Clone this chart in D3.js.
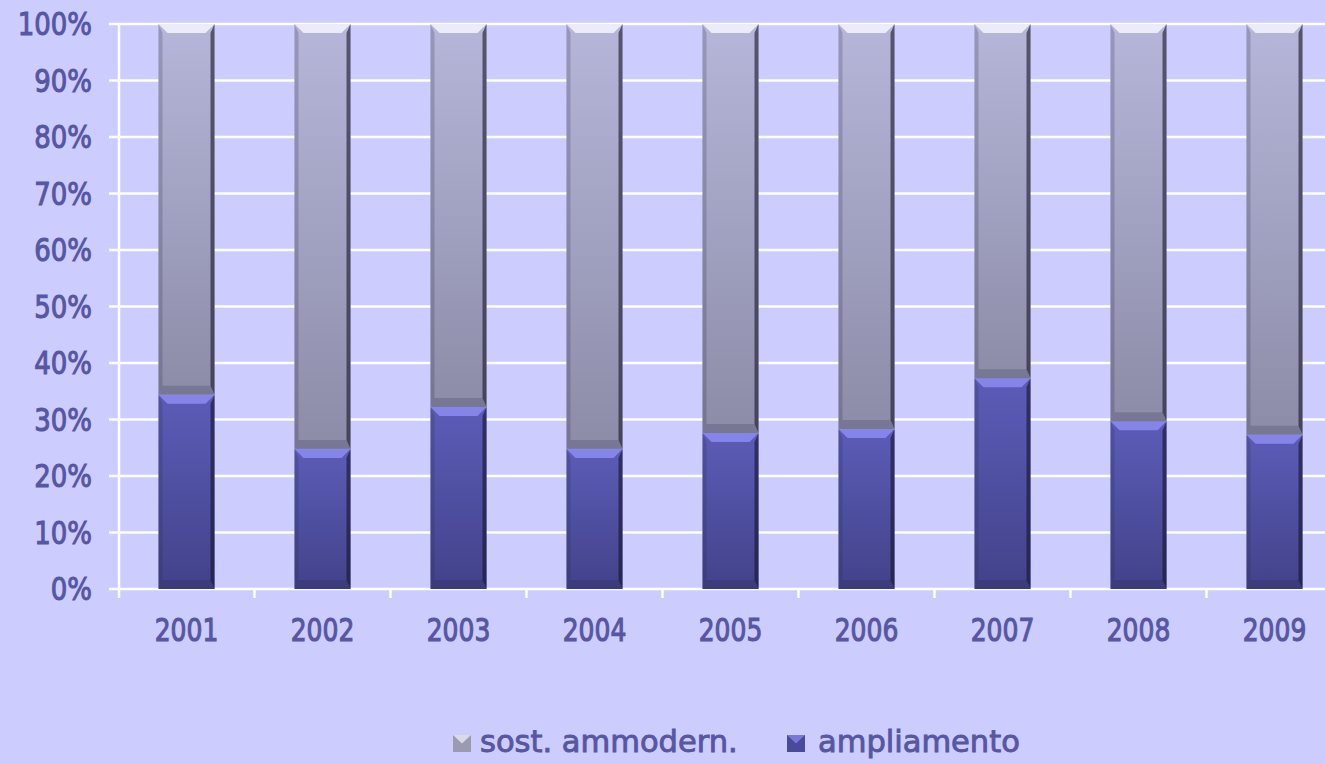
<!DOCTYPE html>
<html>
  <head>
    <meta charset="UTF-8" />
    <title>ampliamento / sost. ammodern.</title>
    <style>
      html, body { margin: 0; padding: 0; background: #ccccff; }
      svg { display: block; }
      text { font-family: "DejaVu Sans", Verdana, sans-serif; fill: #5656a2; stroke: #5656a2; stroke-width: 0.9px; }
    </style>
    <script src="https://d3js.org/d3.v7.min.js"></script>
  </head>
  <body>
    <svg id="viz" width="1325" height="764"></svg>
    <script type="text/javascript">
      // values (share in %)
      var years = ["2001", "2002", "2003", "2004", "2005", "2006", "2007", "2008", "2009"];
      var ampliamento = [34.4, 24.8, 32.2, 24.8, 27.6, 28.3, 37.3, 29.7, 27.3];
      var sostAmmodern = [65.6, 75.2, 67.8, 75.2, 72.4, 71.7, 62.7, 70.3, 72.7];
      var yTicks = [0, 0.1, 0.2, 0.3, 0.4, 0.5, 0.6, 0.7, 0.8, 0.9, 1];
      var seriesNames = ["ampliamento", "sost. ammodern."];
      var legendOrder = ["sost. ammodern.", "ampliamento"];

      var width = 1325, height = 764;
      var svg = d3.select("#viz");

      var rows = years.map(function (y, i) {
        return { year: y, "ampliamento": ampliamento[i], "sost. ammodern.": sostAmmodern[i] };
      });
      var stacked = d3.stack().keys(seriesNames).offset(d3.stackOffsetExpand)(rows);

      var x = d3.scaleBand().domain(years).range([118.5, 1342.5])
        .paddingInner(0.588).paddingOuter(0.294);
      var y = d3.scaleLinear().domain([0, 1]).range([589, 24]);

      // gradients
      var defs = svg.append("defs");
      var styles = {
        "ampliamento": { top: "#5c5cb8", bottom: "#42428a", hi: "#8c8cf2", legend: "#4a4a9c" },
        "sost. ammodern.": { top: "#b6b6da", bottom: "#8c8ca8", hi: "#f4f4ff", legend: "#9a9ab0" }
      };
      seriesNames.forEach(function (k, i) {
        var g = defs.append("linearGradient").attr("id", "grad" + i)
          .attr("x1", 0).attr("y1", 0).attr("x2", 0).attr("y2", 1);
        g.append("stop").attr("offset", "0%").attr("stop-color", styles[k].top);
        g.append("stop").attr("offset", "100%").attr("stop-color", styles[k].bottom);
      });

      // grid
      svg.append("g").selectAll("line").data(yTicks).join("line")
        .attr("x1", 109).attr("x2", width)
        .attr("y1", function (d) { return y(d); }).attr("y2", function (d) { return y(d); })
        .attr("stroke", "#ffffff").attr("stroke-width", 2.5);

      // y axis line
      svg.append("line").attr("x1", 119).attr("x2", 119).attr("y1", y(1)).attr("y2", 598)
        .attr("stroke", "#ffffff").attr("stroke-width", 2.5);

      // category ticks between bands
      var step = x.step();
      svg.append("g").selectAll("line").data(years).join("line")
        .attr("x1", function (d) { return x(d) - x.paddingOuter() * step + step; })
        .attr("x2", function (d) { return x(d) - x.paddingOuter() * step + step; })
        .attr("y1", y(0)).attr("y2", 598)
        .attr("stroke", "#ffffff").attr("stroke-width", 2.5);

      // y labels (text in the picture is stretched vertically)
      svg.append("g").selectAll("text").data(yTicks).join("text")
        .attr("transform", function (d) { return "translate(92," + y(d) + ") scale(1,1.2)"; })
        .attr("dy", "0.36em").attr("text-anchor", "end")
        .style("font-size", "26px")
        .text(d3.format(".0%"));

      // x labels
      svg.append("g").selectAll("text").data(years).join("text")
        .attr("transform", function (d) { return "translate(" + (x(d) + x.bandwidth() / 2) + ",630) scale(1,1.25)"; })
        .attr("dy", "0.36em").attr("text-anchor", "middle")
        .style("font-size", "25px")
        .text(function (d) { return d; });

      // bars with bevel
      var bw = x.bandwidth(), bv = 9, sv = 4;
      stacked.forEach(function (s, i) {
        var k = s.key;
        var g = svg.append("g");
        s.forEach(function (d) {
          var x0 = x(d.data.year), y0 = y(d[1]), h = y(d[0]) - y(d[1]);
          g.append("rect").attr("x", x0).attr("y", y0).attr("width", bw).attr("height", h)
            .attr("fill", "url(#grad" + i + ")");
          // left side
          g.append("polygon").attr("points", [[x0, y0], [x0 + sv, y0 + bv], [x0 + sv, y0 + h - bv], [x0, y0 + h]].join(" "))
            .attr("fill", "rgba(40,40,70,0.22)");
          // right side
          g.append("polygon").attr("points", [[x0 + bw, y0], [x0 + bw - sv, y0 + bv], [x0 + bw - sv, y0 + h - bv], [x0 + bw, y0 + h]].join(" "))
            .attr("fill", "rgba(20,20,40,0.6)");
          // bottom
          g.append("polygon").attr("points", [[x0, y0 + h], [x0 + bw, y0 + h], [x0 + bw - sv, y0 + h - bv], [x0 + sv, y0 + h - bv]].join(" "))
            .attr("fill", "rgba(30,30,60,0.18)");
          // top highlight
          g.append("polygon").attr("points", [[x0, y0], [x0 + bw, y0], [x0 + bw - bv, y0 + bv], [x0 + bv, y0 + bv]].join(" "))
            .attr("fill", styles[k].hi).attr("opacity", 0.85);
        });
      });

      // legend
      var legendPos = [{ mx: 453, tx: 480 }, { mx: 787, tx: 818 }];
      var lg = svg.append("g");
      legendOrder.forEach(function (k, i) {
        lg.append("rect").attr("x", legendPos[i].mx).attr("y", 735).attr("width", 18).attr("height", 17)
          .attr("fill", styles[k].legend);
        lg.append("polygon")
          .attr("points", [[legendPos[i].mx, 735], [legendPos[i].mx + 18, 735], [legendPos[i].mx + 9, 743.5]].join(" "))
          .attr("fill", styles[k].hi).attr("opacity", 0.7);
        lg.append("text").attr("x", legendPos[i].tx).attr("y", 752)
          .style("font-size", "30.5px").text(k);
      });
    </script>
  </body>
</html>
